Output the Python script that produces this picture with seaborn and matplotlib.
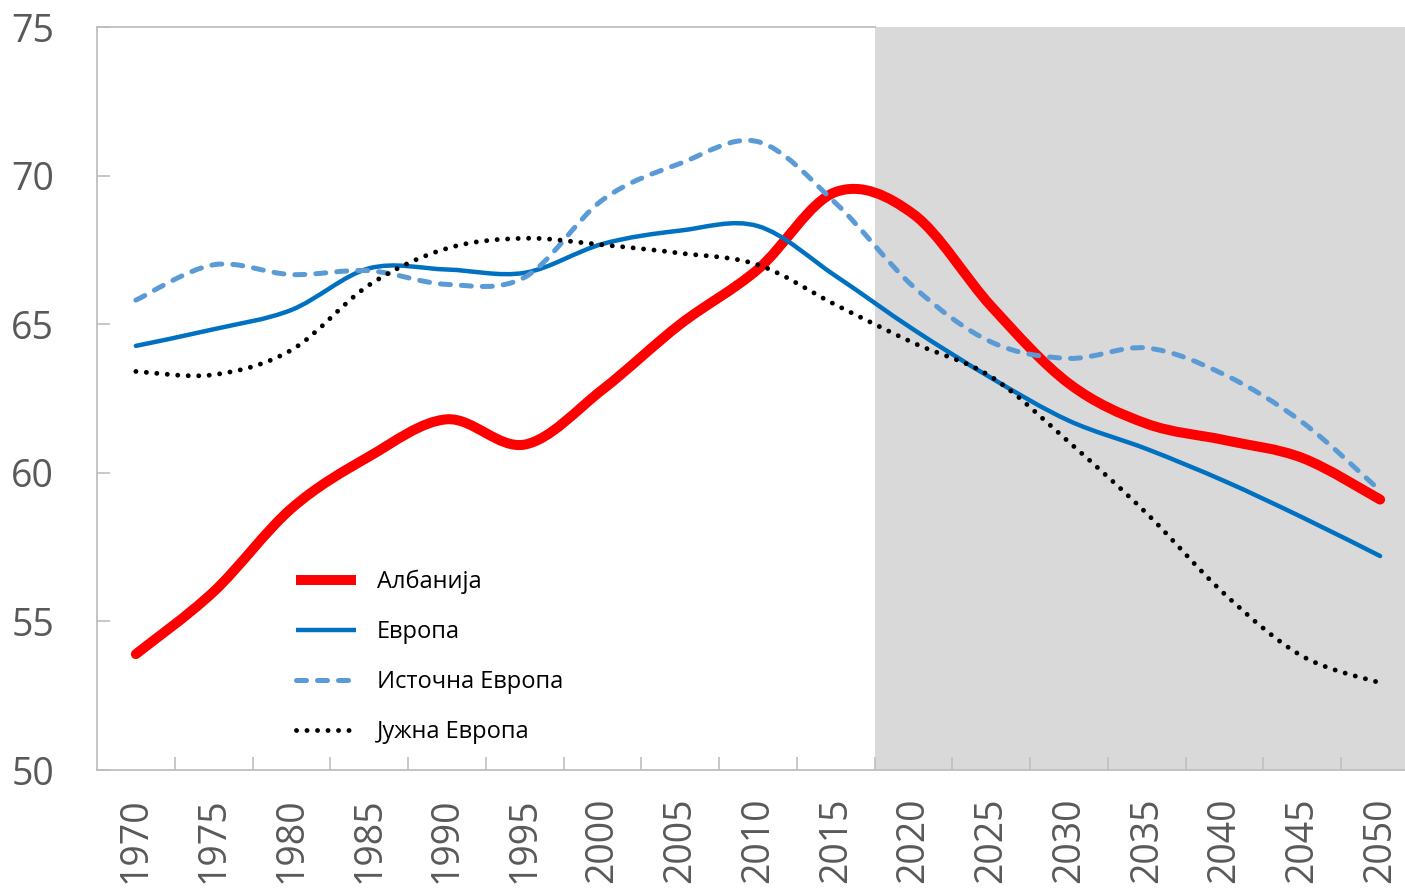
import matplotlib
matplotlib.use('Agg')
import matplotlib.pyplot as plt
import seaborn as sns
import pandas as pd
from matplotlib.path import Path
from matplotlib.patches import PathPatch
from matplotlib.lines import Line2D

years = [1970, 1975, 1980, 1985, 1990, 1995, 2000, 2005, 2010,
         2015, 2020, 2025, 2030, 2035, 2040, 2045, 2050]

albania = [53.9, 56.0, 58.8, 60.55, 61.8, 60.95, 62.8, 65.0, 66.85,
           69.45, 68.7, 65.6, 63.0, 61.65, 61.1, 60.5, 59.1]
europe = [64.27, 64.83, 65.48, 66.88, 66.84, 66.73, 67.7, 68.15, 68.3,
          66.62, 64.82, 63.19, 61.75, 60.8, 59.72, 58.5, 57.2]
east_europe = [65.81, 67.0, 66.67, 66.8, 66.34, 66.58, 69.18, 70.41, 71.14,
               69.07, 66.26, 64.4, 63.85, 64.2, 63.3, 61.7, 59.4]
south_europe = [63.41, 63.3, 64.13, 66.32, 67.55, 67.89, 67.67, 67.39, 67.0,
                65.65, 64.37, 63.23, 61.03, 58.63, 55.92, 53.83, 52.93]

series_names = ["Албанија", "Европа", "Источна Европа", "Јужна Европа"]
y_ticks = [50, 55, 60, 65, 70, 75]

# projection period starts after 2015
projection_start = years.index(2015) + 0.5

rows = []
for name, vals in zip(series_names, [albania, europe, east_europe, south_europe]):
    for i, (yr, v) in enumerate(zip(years, vals)):
        rows.append({"pos": i, "year": yr, "value": v, "series": name})
df = pd.DataFrame(rows)

styles = {
    "Албанија": dict(color="#FF0000", lw=7.2, ls="-", cap="round"),
    "Европа": dict(color="#0070C0", lw=3.2, ls="-", cap="round"),
    "Источна Европа": dict(color="#5B9BD5", lw=3.6, ls=(0, (2.0, 2.2)), cap="round"),
    "Јужна Европа": dict(color="#000000", lw=3.5, ls=(0, (0.01, 2.15)), cap="round"),
}


def smooth_path(xy):
    # Excel-like smoothed line: cubic bezier through the data points
    n = len(xy)
    verts = [tuple(xy[0])]
    codes = [Path.MOVETO]
    for i in range(n - 1):
        p0 = xy[max(i - 1, 0)]
        p1 = xy[i]
        p2 = xy[i + 1]
        p3 = xy[min(i + 2, n - 1)]
        c1 = p1 + (p2 - p0) / 6.0
        c2 = p2 - (p3 - p1) / 6.0
        verts += [tuple(c1), tuple(c2), tuple(p2)]
        codes += [Path.CURVE4] * 3
    return Path(verts, codes)


sns.set_theme(style="white")
plt.rcParams['font.family'] = ['Open Sans', 'DejaVu Sans']

fig = plt.figure(figsize=(14.05, 8.88), dpi=100)
ax = fig.add_axes([97 / 1405, 1 - 770 / 888, (1405 - 97) / 1405, (770 - 27) / 888])

ax.axvspan(projection_start, len(years) + 1, color="#D9D9D9", zorder=0, lw=0)

handles = []
for z, name in enumerate(series_names):
    st = styles[name]
    sub = df[df["series"] == name]
    sns.lineplot(data=sub, x="pos", y="value", ax=ax, color=st["color"], legend=False)
    line = ax.lines[-1]
    line.set_visible(False)
    patch = PathPatch(smooth_path(line.get_xydata()), fill=False,
                      edgecolor=st["color"], linewidth=st["lw"], linestyle=st["ls"],
                      capstyle=st["cap"], joinstyle="round", zorder=3 + z)
    ax.add_patch(patch)
    handles.append(Line2D([], [], color=st["color"], lw=st["lw"], ls=st["ls"],
                          solid_capstyle="butt",
                          dash_capstyle="round" if name != "Албанија" else "butt"))

ax.set_xlim(-0.5, 16.32)
ax.set_ylim(50, 75)
ax.set_xlabel("")
ax.set_ylabel("")

ax.set_xticks(range(len(years)))
ax.set_xticklabels([str(y) for y in years], rotation=90)
ax.set_xticks([i + 0.5 for i in range(len(years) - 1)], minor=True)
ax.tick_params(axis="x", which="major", length=0, pad=20, labelsize=27, labelcolor="#595959")
ax.tick_params(axis="x", which="minor", direction="in", length=9.4, width=1.2,
               color="#BFBFBF", bottom=True)

ax.set_yticks(y_ticks)
ax.tick_params(axis="y", which="major", direction="in", length=9, width=1.2,
               color="#BFBFBF", pad=31, labelsize=27, labelcolor="#595959", left=True)

for side in ["left", "bottom", "top"]:
    ax.spines[side].set_color("#BFBFBF")
    ax.spines[side].set_linewidth(1.3)
ax.spines["right"].set_visible(False)
ax.spines["top"].set_bounds(-0.5, projection_start)

leg = ax.legend(handles, series_names, loc="upper left",
                bbox_to_anchor=(296 / 1405, 1 - 570 / 888), bbox_transform=fig.transFigure,
                frameon=False, fontsize=17, handlelength=2.55, handletextpad=0.89,
                labelspacing=1.1, borderpad=0, borderaxespad=0)
for t in leg.get_texts():
    t.set_color("#000000")

fig.savefig("out.png", dpi=100)
